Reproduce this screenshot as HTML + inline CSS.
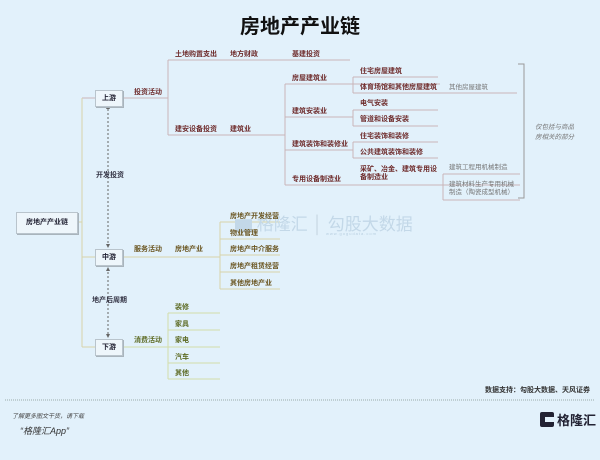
<!DOCTYPE html>
<html><head><meta charset="utf-8"><style>
body{margin:0;width:600px;height:460px;background:#e2f1fb;position:relative;overflow:hidden;font-family:"Liberation Sans","Noto Sans CJK SC",sans-serif;}
.t{position:absolute;font-size:7px;font-weight:bold;white-space:nowrap;line-height:8px;}
.u{color:#6e2b2b}.m{color:#6a5520}.d{color:#5c6a22}
.g{color:#777;font-weight:normal;font-size:6.5px}
.box{position:absolute;background:#eef6fb;border:1px solid #b9c4cc;box-shadow:1px 1px 0 #a9b4bc;font-size:7px;font-weight:bold;color:#223;text-align:center;}
</style></head><body>
<div style="position:absolute;left:0;width:600px;top:10px;text-align:center;font-size:20px;font-weight:bold;color:#111;">房地产产业链</div>
<svg width="600" height="460" style="position:absolute;left:0;top:0">
<g stroke="#c9b5b8" fill="none" stroke-width="1">
<path d="M82 98H95 M122 98H168 M168 60V135 M168 60H350 M168 135H285 M285 84V185"/>
<path d="M285 84H440 M353 77V93 M353 77H438 M353 93H517"/>
<path d="M285 117H353 M353 110V126 M353 110H438 M353 126H438"/>
<path d="M285 150H353 M353 142V158 M353 142H438 M353 158H438"/>
<path d="M285 185H520 M443 174V200 M443 174H520 M443 200H520"/>
<path d="M518 64H524V198H518" stroke="#999"/>
</g>
<g stroke="#d8d4a8" fill="none">
<path d="M82 98V347 M78 222H82 M82 257H95 M82 347H95 M122 257H220 M220 222V289 M220 222H280 M220 239H280 M220 255H280 M220 272H280 M220 289H280"/>
</g>
<g stroke="#d3ddaa" fill="none">
<path d="M122 347H168 M168 313V379 M168 313H220 M168 330H220 M168 347H220 M168 363H220 M168 379H220"/>
</g>
<g stroke="#666" stroke-dasharray="2,2" fill="none"><path d="M108 109V247 M108 268V337"/></g>
<g fill="#666"><path d="M106 109L108 105L110 109Z M106 244L108 248L110 244Z M106 271L108 267L110 271Z M106 334L108 338L110 334Z"/></g>
<line x1="5" y1="400" x2="595" y2="400" stroke="#9aa" stroke-dasharray="1,1"/>
<rect x="540" y="412" width="14" height="15" rx="2" fill="#223"/>
<rect x="545" y="417" width="9" height="5" fill="#e2f1fb"/>
</svg>
<div class="box" style="left:16px;top:212px;width:60px;height:20px;line-height:20px;">房地产产业链</div>
<div class="box" style="left:95px;top:90px;width:26px;height:15px;line-height:15px;">上游</div>
<div class="box" style="left:95px;top:249px;width:26px;height:15px;line-height:15px;">中游</div>
<div class="box" style="left:95px;top:339px;width:26px;height:15px;line-height:15px;">下游</div>
<div class="t" style="left:96px;top:172px;color:#334">开发投资</div>
<div class="t" style="left:92px;top:297px;color:#334">地产后周期</div>
<div class="t u" style="left:134px;top:89px">投资活动</div>
<div class="t u" style="left:175px;top:51px">土地购置支出</div>
<div class="t u" style="left:230px;top:51px">地方财政</div>
<div class="t u" style="left:292px;top:51px">基建投资</div>
<div class="t u" style="left:175px;top:126px">建安设备投资</div>
<div class="t u" style="left:230px;top:126px">建筑业</div>
<div class="t u" style="left:292px;top:75px">房屋建筑业</div>
<div class="t u" style="left:360px;top:68px">住宅房屋建筑</div>
<div class="t u" style="left:360px;top:84px">体育场馆和其他房屋建筑</div>
<div class="t g" style="left:449px;top:84px">其他房屋建筑</div>
<div class="t u" style="left:292px;top:108px">建筑安装业</div>
<div class="t u" style="left:360px;top:100px">电气安装</div>
<div class="t u" style="left:360px;top:116px">管道和设备安装</div>
<div class="t u" style="left:292px;top:141px">建筑装饰和装修业</div>
<div class="t u" style="left:360px;top:133px">住宅装饰和装修</div>
<div class="t u" style="left:360px;top:149px">公共建筑装饰和装修</div>
<div class="t u" style="left:292px;top:176px">专用设备制造业</div>
<div class="t u" style="left:360px;top:166px">采矿、冶金、建筑专用设<br>备制造业</div>
<div class="t g" style="left:449px;top:164px">建筑工程用机械制造</div>
<div class="t g" style="left:449px;top:181px">建筑材料生产专用机械<br>制造（陶瓷成型机械）</div>
<div class="t g" style="left:535px;top:123px;font-style:italic;line-height:10px">仅包括与商品<br>房相关的部分</div>
<div style="position:absolute;left:235px;top:210px;font-size:17px;color:#c3d8e8;white-space:nowrap">▆ 格隆汇 <span style="color:#c8d8e4">│</span> 勾股大数据</div>
<div style="position:absolute;left:326px;top:231px;font-size:4px;color:#b8cfe0;letter-spacing:1px">www.gogudata.com</div>
<div class="t m" style="left:134px;top:246px">服务活动</div>
<div class="t m" style="left:175px;top:246px">房地产业</div>
<div class="t m" style="left:230px;top:213px">房地产开发经营</div>
<div class="t m" style="left:230px;top:230px">物业管理</div>
<div class="t m" style="left:230px;top:246px">房地产中介服务</div>
<div class="t m" style="left:230px;top:263px">房地产租赁经营</div>
<div class="t m" style="left:230px;top:280px">其他房地产业</div>
<div class="t d" style="left:134px;top:337px">消费活动</div>
<div class="t d" style="left:175px;top:304px">装修</div>
<div class="t d" style="left:175px;top:321px">家具</div>
<div class="t d" style="left:175px;top:337px">家电</div>
<div class="t d" style="left:175px;top:354px">汽车</div>
<div class="t d" style="left:175px;top:370px">其他</div>
<div class="t" style="right:10px;top:387px;color:#333">数据支持：勾股大数据、天风证券</div>
<div style="position:absolute;left:12px;top:411px;font-size:6px;font-style:italic;color:#444">了解更多图文干货，请下载</div>
<div style="position:absolute;left:20px;top:424px;font-size:9px;font-style:italic;color:#333">“格隆汇App”</div>
<div style="position:absolute;left:557px;top:410px;font-size:13px;font-weight:bold;color:#223">格隆汇</div>
</body></html>
